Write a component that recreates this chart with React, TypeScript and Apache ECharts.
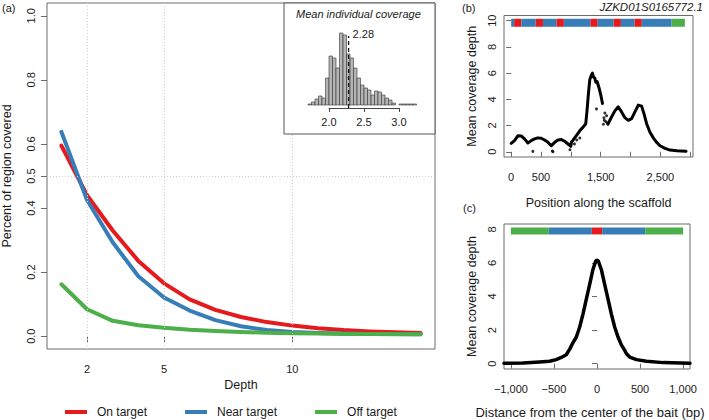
import React, { useEffect, useRef } from "react";
import * as echarts from "echarts";

// ---------- Panel (a): coverage by depth ----------
const DEPTHS = [1, 2, 3, 4, 5, 6, 7, 8, 9, 10, 11, 12, 13, 14, 15];
const ON_TARGET = [0.595, 0.44, 0.33, 0.235, 0.165, 0.115, 0.082, 0.06, 0.044, 0.033, 0.025, 0.019, 0.015, 0.012, 0.01];
const NEAR_TARGET = [0.638, 0.425, 0.293, 0.187, 0.121, 0.08, 0.05, 0.031, 0.019, 0.013, 0.01, 0.008, 0.007, 0.007, 0.006];
const OFF_TARGET = [0.162, 0.084, 0.048, 0.034, 0.026, 0.02, 0.016, 0.013, 0.011, 0.009, 0.008, 0.007, 0.007, 0.006, 0.006];
const A_X_TICKS = [2, 5, 10];
const A_Y_TICKS = [0, 0.2, 0.4, 0.5, 0.6, 0.8, 1.0];
const A_X_GRID = [2, 5, 10];
const A_Y_GRID = [0.5];
const SERIES_NAMES = ["On target", "Near target", "Off target"];

// ---------- Inset: histogram of mean individual coverage ----------
const HIST_BIN_WIDTH = 0.05;
const HIST_STARTS = [1.7, 1.75, 1.8, 1.85, 1.9, 1.95, 2.0, 2.05, 2.1, 2.15, 2.2, 2.25, 2.3, 2.35, 2.4, 2.45, 2.5, 2.55, 2.6, 2.65, 2.7, 2.75, 2.8, 2.85, 2.9, 2.95, 3.0, 3.05, 3.1, 3.15, 3.2];
const HIST_COUNTS = [1, 3, 6, 9, 7, 27, 49, 47, 37, 72, 70, 51, 47, 37, 27, 20, 17, 15, 10, 14, 13, 10, 7, 5, 2, 0, 1, 1, 1, 1, 1];
const HIST_MEAN = 2.28;

// ---------- Panel (b): coverage along scaffold ----------
const SCAFFOLD_NAME = "JZKD01S0165772.1";
const SCAFFOLD_COVERAGE: [number, number | string][] = [
  [0, 0.64], [56, 0.85], [112, 1.22], [168, 1.21], [224, 0.98], [280, 0.67], [336, 0.85], [392, 0.98],
  [448, 1.06], [504, 1.03], [560, 0.9], [617, 0.72], [673, 0.46], [729, 0.72], [785, 0.9], [841, 0.93],
  [897, 0.8], [953, 0.59], [1000, 0.42], [1010, 0.75], [1037, 0.88], [1093, 1.24], [1149, 1.6], [1205, 1.88],
  [1250, 2.14], [1272, 3.17], [1295, 4.46], [1317, 5.49], [1340, 5.8], [1362, 6.0], [1380, 5.7], [1401, 5.62],
  [1420, 5.3], [1440, 5.36], [1474, 4.85], [1502, 4.33], [1530, 3.69], [1535, "-"], [1620, 2.1], [1682, 2.65],
  [1738, 3.12], [1794, 3.43], [1850, 3.04], [1906, 2.6], [1962, 2.4], [2018, 2.53], [2074, 3.04], [2130, 3.56],
  [2186, 3.48], [2225, 2.91], [2270, 2.14], [2326, 1.49], [2382, 1.06], [2438, 0.72], [2494, 0.46], [2578, 0.26],
  [2662, 0.13], [2774, 0.08], [2930, 0.03],
];
const SCAFFOLD_OUTLIERS: [number, number][] = [
  [364, 0.03], [700, 0.0], [690, 0.06], [985, 0.15], [992, 0.45], [1060, 0.6], [1100, 0.9], [1150, 1.05],
  [1430, 3.27], [1545, 2.1], [1555, 2.6], [1570, 2.95], [1585, 2.3], [1600, 2.75], [1612, 2.2], [1560, 2.4],
];
const B_X_TICKS = [0, 500, 1000, 1500, 2000, 2500, 3000];
const B_X_LABELS = [0, 500, 1500, 2500];
const B_Y_TICKS = [0, 2, 4, 6, 8, 10];
// [start, end, kind] kind: 0 = bait (on), 1 = near, 2 = off
const SCAFFOLD_SEGMENTS: [number, number, number][] = [
  [0, 50, 1], [50, 172, 0], [172, 411, 1], [411, 533, 0], [533, 761, 1], [761, 883, 0], [883, 1328, 1],
  [1328, 1450, 0], [1450, 1717, 1], [1717, 1839, 0], [1839, 2067, 1], [2067, 2189, 0], [2189, 2689, 1], [2689, 2911, 2],
];

// ---------- Panel (c): coverage around bait centre ----------
const BAIT_COVERAGE: [number, number][] = [
  [-1080, 0.02], [-862, 0.04], [-668, 0.1], [-551, 0.14], [-474, 0.24], [-415, 0.37], [-357, 0.53], [-338, 0.69],
  [-318, 0.85], [-280, 1.24], [-241, 1.57], [-202, 2.17], [-163, 2.95], [-124, 3.84], [-85, 4.72], [-47, 5.61],
  [-16, 6.1], [0, 6.16], [16, 6.1], [50, 5.61], [89, 4.72], [128, 3.84], [167, 2.95], [206, 2.17], [245, 1.57],
  [283, 1.12], [322, 0.79], [342, 0.59], [380, 0.39], [458, 0.24], [575, 0.14], [769, 0.06], [1080, 0.02],
];
const C_X_TICKS = [-1000, -500, 0, 500, 1000];
const C_Y_TICKS = [0, 2, 4, 6, 8];
const BAIT_SEGMENTS: [number, number, number][] = [
  [-1000, -560, 2], [-560, -60, 1], [-60, 60, 0], [60, 560, 1], [560, 1000, 2],
];

const RED = "#E41A1C";
const BLUE = "#377EB8";
const GREEN = "#4DAF4A";
const KIND_COLORS = [RED, BLUE, GREEN];
const FONT = "Liberation Sans, Arial, Helvetica, sans-serif";
const AXIS_GREY = "#6b6b6b";
const TEXT = "#1a1a1a";

function comma(v: number): string {
  const s = Math.abs(v).toLocaleString("en-US");
  return (v < 0 ? "\u2212" : "") + s;
}

function segmentRenderer(yTop: number, yBot: number) {
  return (params: any, api: any) => {
    const s = api.value(0);
    const e = api.value(1);
    const k = api.value(2);
    const p1 = api.coord([s, yTop]);
    const p2 = api.coord([e, yBot]);
    return {
      type: "rect",
      shape: { x: p1[0], y: p1[1], width: p2[0] - p1[0], height: p2[1] - p1[1] },
      style: { fill: KIND_COLORS[k] },
    };
  };
}

const tickStyle = (len: number) => ({ show: true, length: len, lineStyle: { color: AXIS_GREY, width: 1 } });

export default function App() {
  const ref = useRef<HTMLDivElement>(null);
  useEffect(() => {
    document.body.style.margin = "0";
    if (!ref.current) return;
    const chart = echarts.init(ref.current, undefined, { renderer: "svg" });
    const option: any = {
      animation: false,
      backgroundColor: "#ffffff",
      textStyle: { fontFamily: FONT },
      title: [
        { text: "(a)", left: 2, top: 2, padding: 0, textStyle: { fontSize: 11, fontWeight: "normal", color: TEXT, fontFamily: FONT } },
        { text: "(b)", left: 462, top: 2, padding: 0, textStyle: { fontSize: 11, fontWeight: "normal", color: TEXT, fontFamily: FONT } },
        { text: "(c)", left: 463, top: 202, padding: 0, textStyle: { fontSize: 11, fontWeight: "normal", color: TEXT, fontFamily: FONT } },
        { text: "Mean individual coverage", left: 296, top: 8, padding: 0, z: 60, textStyle: { fontSize: 11, fontStyle: "italic", fontWeight: "normal", color: TEXT, fontFamily: FONT } },
        { text: SCAFFOLD_NAME, right: 6, top: 1, padding: 0, textStyle: { fontSize: 11.5, fontStyle: "italic", fontWeight: "normal", color: TEXT, fontFamily: FONT } },
      ],
      legend: {
        data: SERIES_NAMES,
        left: 60,
        top: 401,
        icon: "rect",
        itemWidth: 22,
        itemHeight: 4,
        itemGap: 38,
        selectedMode: false,
        textStyle: { fontSize: 12, color: TEXT, fontFamily: FONT, padding: [0, 0, 0, 5] },
      },
      graphic: {
        elements: [
          { type: "rect", z: 50, shape: { x: 284, y: 3, width: 151, height: 131 }, style: { fill: "#ffffff", stroke: "#555555", lineWidth: 1 } },
          {
            type: "text", x: 7, y: 176, rotation: Math.PI / 2, z: 5,
            style: { text: "Percent of region covered", align: "center", verticalAlign: "middle", fontSize: 12.5, fontFamily: FONT, fill: TEXT },
          },
        ],
      },
      grid: [
        { left: 47, top: 3, width: 388, height: 346, show: true, borderColor: AXIS_GREY, borderWidth: 1, backgroundColor: "transparent" },
        { left: 301, top: 33, width: 119, height: 72, show: false },
        { left: 329, top: 100, width: 70, height: 8, show: false },
        { left: 504, top: 15.5, width: 189, height: 141.5, show: true, borderColor: AXIS_GREY, borderWidth: 1, backgroundColor: "transparent" },
        { left: 504, top: 224, width: 186, height: 145, show: true, borderColor: AXIS_GREY, borderWidth: 1, backgroundColor: "transparent" },
      ],
      xAxis: [
        {
          gridIndex: 0, type: "value", min: 0.44, max: 15.56,
          axisLine: { show: false }, splitLine: { show: false },
          axisTick: { ...tickStyle(6), customValues: A_X_TICKS },
          axisLabel: { customValues: A_X_TICKS, margin: 14, fontSize: 11, color: TEXT, fontFamily: FONT },
          name: "Depth", nameLocation: "middle", nameGap: 26,
          nameTextStyle: { fontSize: 12.5, color: TEXT, fontFamily: FONT },
        },
        { gridIndex: 1, type: "value", min: 1.6, max: 3.3, show: false },
        {
          gridIndex: 2, type: "value", min: 2, max: 3, interval: 0.5, z: 60,
          axisLine: { show: true, lineStyle: { color: "#444", width: 1 } },
          splitLine: { show: false },
          axisTick: { show: true, length: 4, lineStyle: { color: "#444", width: 1 } },
          axisLabel: { margin: 8, fontSize: 11, color: TEXT, fontFamily: FONT, formatter: (v: number) => v.toFixed(1) },
        },
        {
          gridIndex: 3, type: "value", min: -120, max: 3047,
          axisLine: { show: false }, splitLine: { show: false },
          axisTick: { ...tickStyle(5), customValues: B_X_TICKS },
          axisLabel: { customValues: B_X_LABELS, margin: 14, fontSize: 11, color: TEXT, fontFamily: FONT, formatter: (v: number) => comma(v) },
          name: "Position along the scaffold", nameLocation: "middle", nameGap: 39,
          nameTextStyle: { fontSize: 12.5, color: TEXT, fontFamily: FONT },
        },
        {
          gridIndex: 4, type: "value", min: -1080, max: 1080,
          axisLine: { show: false }, splitLine: { show: false },
          axisTick: { ...tickStyle(5), customValues: C_X_TICKS },
          axisLabel: { customValues: C_X_TICKS, margin: 14, fontSize: 11, color: TEXT, fontFamily: FONT, formatter: (v: number) => comma(v) },
          name: "Distance from the center of the bait (bp)", nameLocation: "middle", nameGap: 37,
          nameTextStyle: { fontSize: 13, color: TEXT, fontFamily: FONT, padding: [0, 14, 0, 0] },
        },
      ],
      yAxis: [
        {
          gridIndex: 0, type: "value", min: -0.04, max: 1.04,
          axisLine: { show: false }, splitLine: { show: false },
          axisTick: { ...tickStyle(6), customValues: A_Y_TICKS },
          axisLabel: { customValues: A_Y_TICKS, rotate: 90, margin: 11, fontSize: 11, color: TEXT, fontFamily: FONT, formatter: (v: number) => v.toFixed(1) },
        },
        { gridIndex: 1, type: "value", min: 0, max: 72, show: false },
        { gridIndex: 2, type: "value", min: 0, max: 1, show: false },
        {
          gridIndex: 3, type: "value", min: -0.4, max: 10.4,
          axisLine: { show: false }, splitLine: { show: false },
          axisTick: { ...tickStyle(5), customValues: B_Y_TICKS },
          axisLabel: { customValues: B_Y_TICKS, rotate: 90, margin: 7, fontSize: 11, color: TEXT, fontFamily: FONT },
          name: "Mean coverage depth", nameLocation: "middle", nameRotate: 90, nameGap: 26,
          nameTextStyle: { fontSize: 12.5, color: TEXT, fontFamily: FONT },
        },
        {
          gridIndex: 4, type: "value", min: -0.32, max: 8.32,
          axisLine: { show: false }, splitLine: { show: false },
          axisTick: { ...tickStyle(5), customValues: C_Y_TICKS },
          axisLabel: { customValues: C_Y_TICKS, rotate: 90, margin: 7, fontSize: 11, color: TEXT, fontFamily: FONT },
          name: "Mean coverage depth", nameLocation: "middle", nameRotate: 90, nameGap: 26,
          nameTextStyle: { fontSize: 12.5, color: TEXT, fontFamily: FONT },
        },
      ],
      series: [
        {
          name: "grid-a", type: "line", xAxisIndex: 0, yAxisIndex: 0, z: 1,
          data: [[A_X_GRID[0], A_Y_GRID[0]]], symbol: "none", lineStyle: { width: 0 }, silent: true,
          markLine: {
            silent: true, symbol: ["none", "none"], label: { show: false },
            lineStyle: { type: [1, 2], color: "#cfcfcf", width: 1 },
            data: [...A_X_GRID.map((x) => ({ xAxis: x })), ...A_Y_GRID.map((y) => ({ yAxis: y }))],
          },
        },
        {
          name: SERIES_NAMES[0], type: "line", xAxisIndex: 0, yAxisIndex: 0, z: 3,
          data: DEPTHS.map((d, i) => [d, ON_TARGET[i]]), symbol: "none", color: RED,
          lineStyle: { width: 4, color: RED, cap: "round", join: "round" },
        },
        {
          name: SERIES_NAMES[1], type: "line", xAxisIndex: 0, yAxisIndex: 0, z: 3,
          data: DEPTHS.map((d, i) => [d, NEAR_TARGET[i]]), symbol: "none", color: BLUE,
          lineStyle: { width: 4, color: BLUE, cap: "round", join: "round" },
        },
        {
          name: SERIES_NAMES[2], type: "line", xAxisIndex: 0, yAxisIndex: 0, z: 3,
          data: DEPTHS.map((d, i) => [d, OFF_TARGET[i]]), symbol: "none", color: GREEN,
          lineStyle: { width: 4, color: GREEN, cap: "round", join: "round" },
        },
        {
          name: "hist", type: "custom", xAxisIndex: 1, yAxisIndex: 1, z: 60,
          data: HIST_STARTS.map((s, i) => [s, HIST_COUNTS[i]]),
          renderItem: (params: any, api: any) => {
            const s = api.value(0);
            const c = api.value(1);
            if (!c) return null;
            const p0 = api.coord([s, 0]);
            const p1 = api.coord([s + HIST_BIN_WIDTH, c]);
            return {
              type: "rect",
              shape: { x: p0[0], y: p1[1], width: p1[0] - p0[0], height: p0[1] - p1[1] },
              style: { fill: "#b5b5b5", stroke: "#333333", lineWidth: 0.6 },
            };
          },
        },
        {
          name: "mean", type: "line", xAxisIndex: 1, yAxisIndex: 1, z: 61, clip: false,
          data: [[HIST_MEAN, -3], [HIST_MEAN, 69]], symbol: "none",
          lineStyle: { type: [4, 3], color: "#111", width: 1.3 },
          endLabel: { show: true, formatter: () => HIST_MEAN.toFixed(2), fontSize: 11, color: TEXT, fontFamily: FONT, distance: 4, offset: [0, -2] },
        },
        {
          name: "scaffold-seg", type: "custom", xAxisIndex: 3, yAxisIndex: 3, z: 4,
          data: SCAFFOLD_SEGMENTS, renderItem: segmentRenderer(10.15, 9.54),
        },
        {
          name: "scaffold", type: "line", xAxisIndex: 3, yAxisIndex: 3, z: 3,
          data: SCAFFOLD_COVERAGE, symbol: "none", connectNulls: false,
          lineStyle: { color: "#000", width: 3, join: "round", cap: "round" },
        },
        {
          name: "scaffold-pts", type: "scatter", xAxisIndex: 3, yAxisIndex: 3, z: 3,
          data: SCAFFOLD_OUTLIERS, symbolSize: 3, itemStyle: { color: "#000" },
        },
        {
          name: "bait-seg", type: "custom", xAxisIndex: 4, yAxisIndex: 4, z: 4,
          data: BAIT_SEGMENTS, renderItem: segmentRenderer(8.11, 7.7),
        },
        {
          name: "bait", type: "line", xAxisIndex: 4, yAxisIndex: 4, z: 3,
          data: BAIT_COVERAGE, symbol: "none",
          lineStyle: { color: "#000", width: 3.5, join: "round", cap: "round" },
        },
      ],
    };
    chart.setOption(option);
    return () => chart.dispose();
  }, []);
  return <div ref={ref} style={{ width: 709, height: 420, position: "fixed", left: 0, top: 0 }} />;
}
